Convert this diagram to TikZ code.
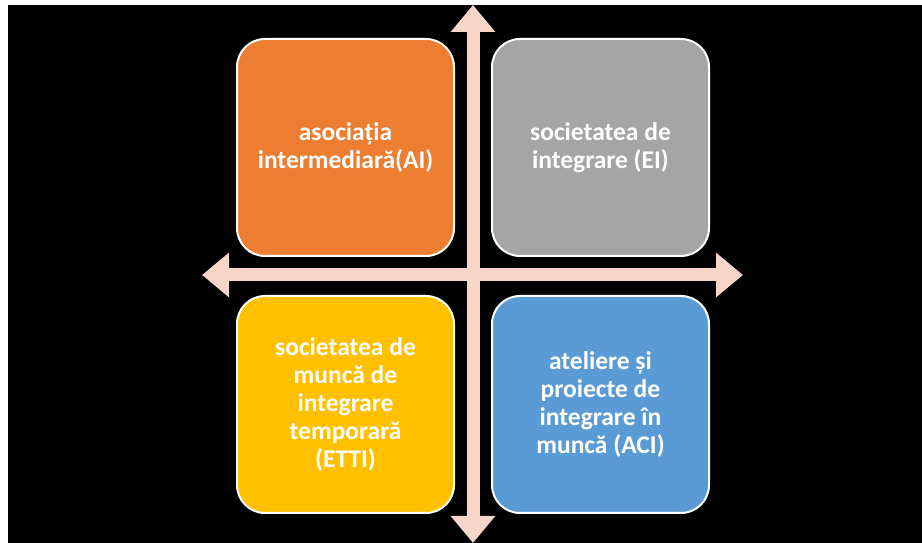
\documentclass[tikz,border=0pt]{standalone}
\usepackage{fontspec}
\setmainfont{Carlito}
\usetikzlibrary{arrows.meta, positioning}
\definecolor{axispink}{HTML}{F8D5C9}
\definecolor{aiorange}{HTML}{ED7D31}
\definecolor{eigray}{HTML}{A5A5A5}
\definecolor{ettiyellow}{HTML}{FFC000}
\definecolor{aciblue}{HTML}{5B9BD5}
\tikzset{
    quad/.style={draw=white, line width=2pt, rounded corners=28pt, minimum width=217pt, minimum height=217pt, inner sep=0pt, text=white, align=center, font=\bfseries\fontsize{25.5}{28}\selectfont},
    axis/.style={draw=axispink, line width=13pt, {Triangle[width=43pt,length=27pt]}-{Triangle[width=43pt,length=27pt]}}
}

\begin{document}
\begin{tikzpicture}[
        x=1pt, y=1pt
    ]
        \useasboundingbox (0,0) rectangle (922,543);
        \fill[black] (8,0) rectangle (922,538);

        \coordinate (centre) at (473,268);
        \coordinate (top) at (473,538);
        \coordinate (bottom) at (473,0);
        \coordinate (left) at (202,268);
        \coordinate (right) at (743,268);

        \draw[axis] (bottom) -- (top);
        \draw[axis] (left) -- (right);

        \node[quad, fill=aiorange] (AI) [above left=18pt and 18pt of centre] {asociația\\intermediară(AI)};
        \node[quad, fill=eigray] (EI) [above right=18pt and 18pt of centre] {societatea de\\integrare (EI)};
        \node[quad, fill=ettiyellow] (ETTI) [below left=20pt and 18pt of centre] {societatea de\\muncă de\\integrare\\temporară\\(ETTI)};
        \node[quad, fill=aciblue] (ACI) [below right=20pt and 18pt of centre] {ateliere și\\proiecte de\\integrare în\\muncă (ACI)};
    \end{tikzpicture}
\end{document}
